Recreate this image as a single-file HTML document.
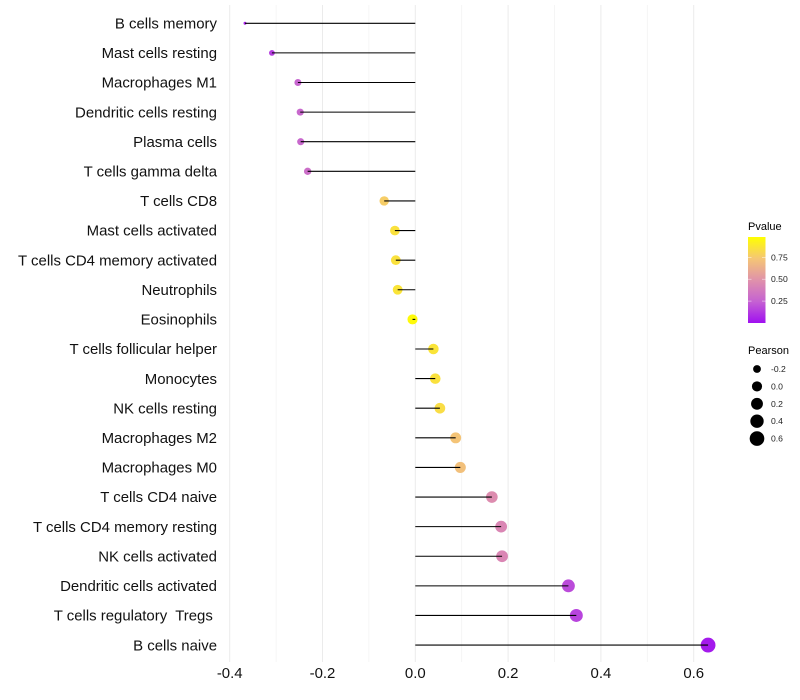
<!DOCTYPE html>
<html>
<head>
<meta charset="utf-8">
<title>Pearson lollipop chart</title>
<style>
html,body{margin:0;padding:0;background:#fff;}
svg{display:block;font-family:"Liberation Sans",Arial,sans-serif;}
text{white-space:pre;}
</style>
</head>
<body>
<svg id="chart" xmlns="http://www.w3.org/2000/svg" width="800" height="700" viewBox="0 0 800 700">
<defs>
<linearGradient id="pgrad" x1="0" y1="1" x2="0" y2="0">
<stop offset="0" stop-color="#a010f0"/>
<stop offset="0.25" stop-color="#c562d2"/>
<stop offset="0.5" stop-color="#e092aa"/>
<stop offset="0.75" stop-color="#f5c675"/>
<stop offset="1" stop-color="#ffff00"/>
</linearGradient>
</defs>
<rect width="800" height="700" fill="#fff"/>
<g id="grid"></g>
<g id="marks"></g>
<g id="ylabels"></g>
<g id="xlabels"></g>
<g id="legend">
<text x="748" y="230" font-size="11" fill="#000">Pvalue</text>
<rect x="748" y="237" width="17.5" height="86" fill="url(#pgrad)"/>
<g id="pticks"></g>
<text x="748" y="354" font-size="11" fill="#000">Pearson</text>
<g id="sizes"></g>
</g>
</svg>
<script>
var categories = ["B cells memory","Mast cells resting","Macrophages M1","Dendritic cells resting","Plasma cells","T cells gamma delta","T cells CD8","Mast cells activated","T cells CD4 memory activated","Neutrophils","Eosinophils","T cells follicular helper","Monocytes","NK cells resting","Macrophages M2","Macrophages M0","T cells CD4 naive","T cells CD4 memory resting","NK cells activated","Dendritic cells activated","T cells regulatory  Tregs ","B cells naive"];
var pearson = [-0.367,-0.309,-0.253,-0.248,-0.247,-0.232,-0.067,-0.044,-0.042,-0.038,-0.006,0.039,0.043,0.053,0.087,0.097,0.165,0.185,0.187,0.33,0.347,0.631];
var pvalue = [0.06,0.14,0.27,0.28,0.28,0.31,0.78,0.87,0.87,0.88,0.98,0.88,0.87,0.85,0.74,0.72,0.47,0.44,0.44,0.18,0.16,0.03];
var xTicks = [-0.4,-0.2,0,0.2,0.4,0.6];
var xMinorTicks = [-0.3,-0.1,0.1,0.3,0.5];
var xTickLabels = ["-0.4","-0.2","0.0","0.2","0.4","0.6"];
var pTicks = [0.25,0.5,0.75];
var pTickLabels = ["0.25","0.50","0.75"];
var sizeBreaks = [-0.2,0,0.2,0.4,0.6];
var sizeLabels = ["-0.2","0.0","0.2","0.4","0.6"];

var NS = "http://www.w3.org/2000/svg";
function make(tag, attrs, parent, text) {
  var el = document.createElementNS(NS, tag);
  for (var k in attrs) el.setAttribute(k, attrs[k]);
  if (text !== undefined) { el.textContent = text; }
  parent.appendChild(el);
  return el;
}
function xScale(v) { return 415.3 + v * 464; }
function yScale(i) { return 23.28 + i * (621.8 / (categories.length - 1)); }
function pScale(p) { return 323 - p * 87.6; }
var minP = Math.min.apply(null, pearson), maxP = Math.max.apply(null, pearson);
function rScale(v) {
  var t = Math.max(0, (v - minP) / (maxP - minP));
  return 1.5 + 5.9 * Math.sqrt(t);
}
var colorStops = [[160,16,240],[197,98,210],[224,146,170],[245,198,117],[255,255,0]];
function colorScale(p) {
  var t = Math.min(0.9999, Math.max(0, p)) * 4, i = Math.floor(t), f = t - i;
  var a = colorStops[i], b = colorStops[i + 1];
  return "rgb(" + [0,1,2].map(function (c) { return Math.round(a[c] + (b[c] - a[c]) * f); }).join(",") + ")";
}

var grid = document.getElementById("grid");
xMinorTicks.forEach(function (t) {
  var l = make("line", {x1:xScale(t), x2:xScale(t), y1:5, y2:662, stroke:"#f3f3f3", "stroke-width":0.8}, grid);
  
  
});
xTicks.forEach(function (t) {
  var l = make("line", {x1:xScale(t), x2:xScale(t), y1:5, y2:662, stroke:"#ebebeb", "stroke-width":1}, grid);
  
  
});

var marks = document.getElementById("marks");
var ylabels = document.getElementById("ylabels");
categories.forEach(function (name, i) {
  var v = pearson[i], y = yScale(i);
  var c = make("circle", {cx:xScale(v), cy:y, r:rScale(v), fill:colorScale(pvalue[i])}, marks);
  
  
  var l = make("line", {x1:xScale(0), x2:xScale(v), y1:y, y2:y, stroke:"#000", "stroke-width":1.07}, marks);
  
  
  var t = make("text", {x:217, y:y + 5.2, "text-anchor":"end", "font-size":14.95, fill:"#111"}, ylabels, name);
  
  
});

var xlabels = document.getElementById("xlabels");
xTicks.forEach(function (t, i) {
  var e = make("text", {x:xScale(t), y:678, "text-anchor":"middle", "font-size":14.95, fill:"#111"}, xlabels, xTickLabels[i]);
  
  
});

var pticks = document.getElementById("pticks");
pTicks.forEach(function (p, i) {
  var y = pScale(p);
  var a = make("line", {x1:748, x2:751.5, y1:y, y2:y, stroke:"#fff", "stroke-opacity":0.75, "stroke-width":0.6}, pticks);
  
  
  var b = make("line", {x1:762, x2:765.5, y1:y, y2:y, stroke:"#fff", "stroke-opacity":0.75, "stroke-width":0.6}, pticks);
  
  
  var t = make("text", {x:771, y:y + 3, "font-size":8.6, fill:"#222"}, pticks, pTickLabels[i]);
  
  
});

var sizes = document.getElementById("sizes");
sizeBreaks.forEach(function (s, i) {
  var y = 369 + i * 17.4;
  var c = make("circle", {cx:757, cy:y, r:rScale(s), fill:"#000"}, sizes);
  
  
  var t = make("text", {x:771, y:y + 3, "font-size":8.6, fill:"#222"}, sizes, sizeLabels[i]);
  
  
});
</script>
</body>
</html>
